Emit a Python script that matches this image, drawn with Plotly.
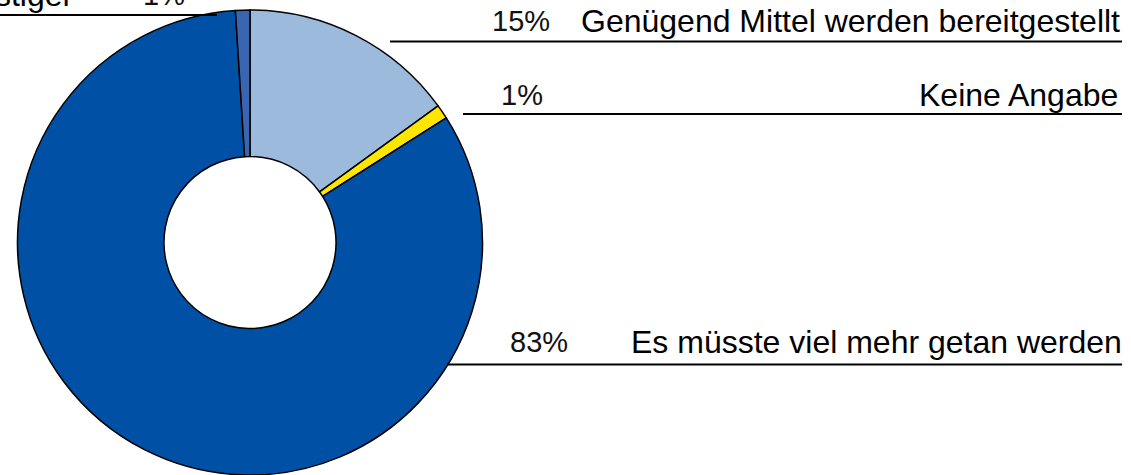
import plotly.graph_objects as go

# ---- data ----
categories = ["Genügend Mittel werden bereitgestellt", "Keine Angabe",
              "Es müsste viel mehr getan werden", "Sonstiger"]
values = [15, 1, 83, 1]
pct_labels = ["15%", "1%", "83%", "1%"]
colors = ["#9BBADC", "#FFE600", "#0051A5", "#3A65B0"]

W, H = 1131, 475
def px(x):
    return x / W
def py(y):
    return 1 - y / H

cx, r = 250, 232.5
fig = go.Figure(go.Pie(
    labels=categories, values=values, sort=False, direction="clockwise",
    rotation=0, hole=0.37, textinfo="none", hoverinfo="label+percent",
    marker=dict(colors=colors, line=dict(color="black", width=1.5)),
    domain=dict(x=[px(cx - r), px(cx + r)], y=[0, py(10)]),
    showlegend=False,
))

font = dict(family="Liberation Sans, Arial, sans-serif", size=32, color="black")
pfont = dict(family="Liberation Sans, Arial, sans-serif", size=29, color="#111111")

# label placements: (category index, right edge of label, pct right edge, cap-centre y)
placements = [(0, 1122, 552, 21), (1, 1120, 545, 95), (2, 1124, 570, 341.5), (3, 76, 187, -5)]
annotations = []
for i, xr, pr, yc in placements:
    annotations.append(dict(x=px(xr), y=py(yc), xref="paper", yref="paper",
                            text=categories[i], showarrow=False, xanchor="right",
                            yanchor="middle", font=font))
    annotations.append(dict(x=px(pr), y=py(yc), xref="paper", yref="paper",
                            text=pct_labels[i], showarrow=False, xanchor="right",
                            yanchor="middle", font=pfont))

# leader lines: (x0, x1, y)
leaders = [(390, 1122, 41.5), (463, 1122, 114), (447, 1122, 364.5), (0, 217, 15)]
shapes = [dict(type="line", xref="paper", yref="paper", x0=px(a), x1=px(b),
               y0=py(y), y1=py(y), line=dict(color="black", width=2))
          for a, b, y in leaders]

fig.update_layout(width=W, height=H, margin=dict(l=0, r=0, t=0, b=0),
                  paper_bgcolor="white", plot_bgcolor="white",
                  annotations=annotations, shapes=shapes)
fig.write_html("out.html", config={"displayModeBar": False},
               post_script="document.body.style.margin='0';document.body.style.overflow='hidden';")
